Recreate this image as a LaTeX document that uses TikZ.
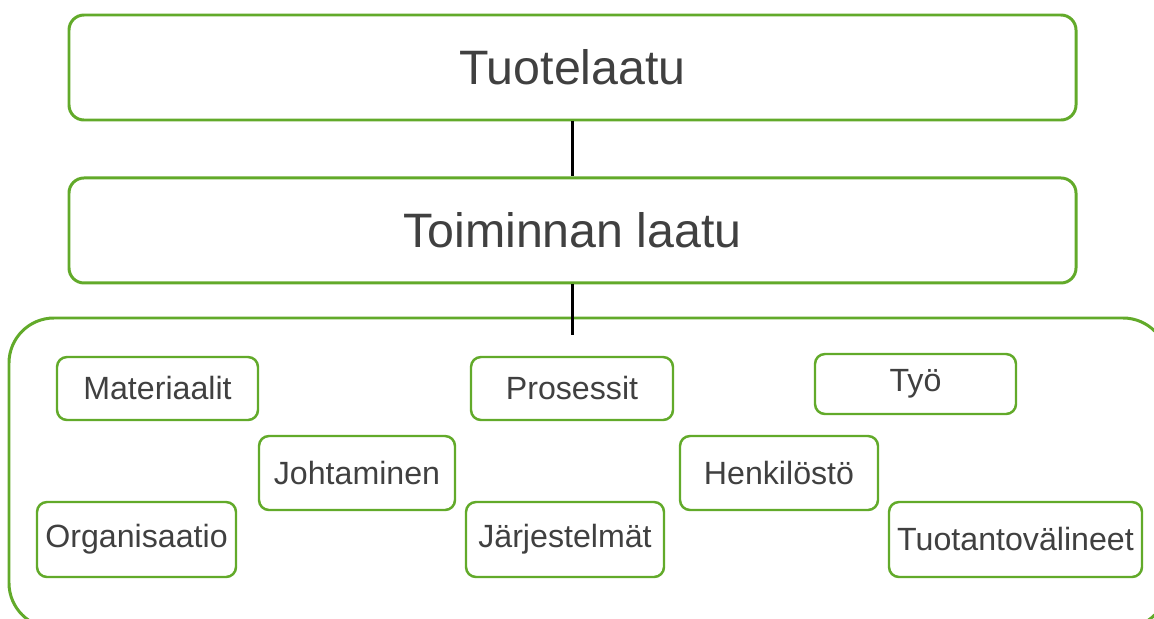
\documentclass[tikz,border=0pt]{standalone}
\usepackage{fontspec}
\setmainfont{Liberation Sans}
\usetikzlibrary{positioning}
\definecolor{laatuvihrea}{RGB}{98,170,42}
\definecolor{tekstiharmaa}{RGB}{64,64,64}
\tikzset{
    isolaatikko/.style={draw=laatuvihrea, line width=1.7pt, rounded corners=0.3cm, minimum width=20.14cm, minimum height=2.1cm, text=tekstiharmaa, font=\fontsize{27.5}{32}\selectfont},
    pienilaatikko/.style={draw=laatuvihrea, line width=1.4pt, rounded corners=0.2cm, text=tekstiharmaa, font=\fontsize{18.3}{22}\selectfont},
    kehys/.style={draw=laatuvihrea, line width=1.7pt, rounded corners=0.9cm},
    viiva/.style={draw=black, line width=1.3pt}
}
\begin{document}
\begin{tikzpicture}
    \useasboundingbox (0,0) rectangle (23.08,-12.38);
            \node[isolaatikko] (tuote) at (11.45,-1.35) {Tuotelaatu};
            \node[isolaatikko, below=1.1cm of tuote] (toiminta) {Toiminnan laatu};
            \node[kehys, minimum width=23.18cm, minimum height=6.2cm] (kehys) at (11.77,-9.46) {};
            \coordinate (liitos) at (11.45,-6.7);

            \node[pienilaatikko, minimum width=4.02cm, minimum height=1.26cm] (materiaalit) at (3.15,-7.77) {Materiaalit};
            \node[pienilaatikko, minimum width=3.98cm, minimum height=1.5cm] (organisaatio) at (2.73,-10.79) {Organisaatio};
            \node[pienilaatikko, minimum width=3.92cm, minimum height=1.48cm] (johtaminen) at (7.14,-9.46) {Johtaminen};
            \node[pienilaatikko, minimum width=4.04cm, minimum height=1.26cm] (prosessit) at (11.44,-7.77) {Prosessit};
            \node[pienilaatikko, minimum width=3.96cm, minimum height=1.5cm] (jarjestelmat) at (11.30,-10.79) {Järjestelmät};
            \node[pienilaatikko, minimum width=3.96cm, minimum height=1.48cm] (henkilosto) at (15.58,-9.46) {Henkilöstö};
            \node[pienilaatikko, minimum width=4.02cm, minimum height=1.2cm] (tyo) at (18.31,-7.68) {Työ};
            \node[pienilaatikko, minimum width=5.06cm, minimum height=1.5cm] (valineet) at (20.31,-10.79) {Tuotantovälineet};

            \draw[viiva] (tuote) -- (toiminta);
            \draw[viiva] (toiminta) -- (liitos);
        \end{tikzpicture}
\end{document}
